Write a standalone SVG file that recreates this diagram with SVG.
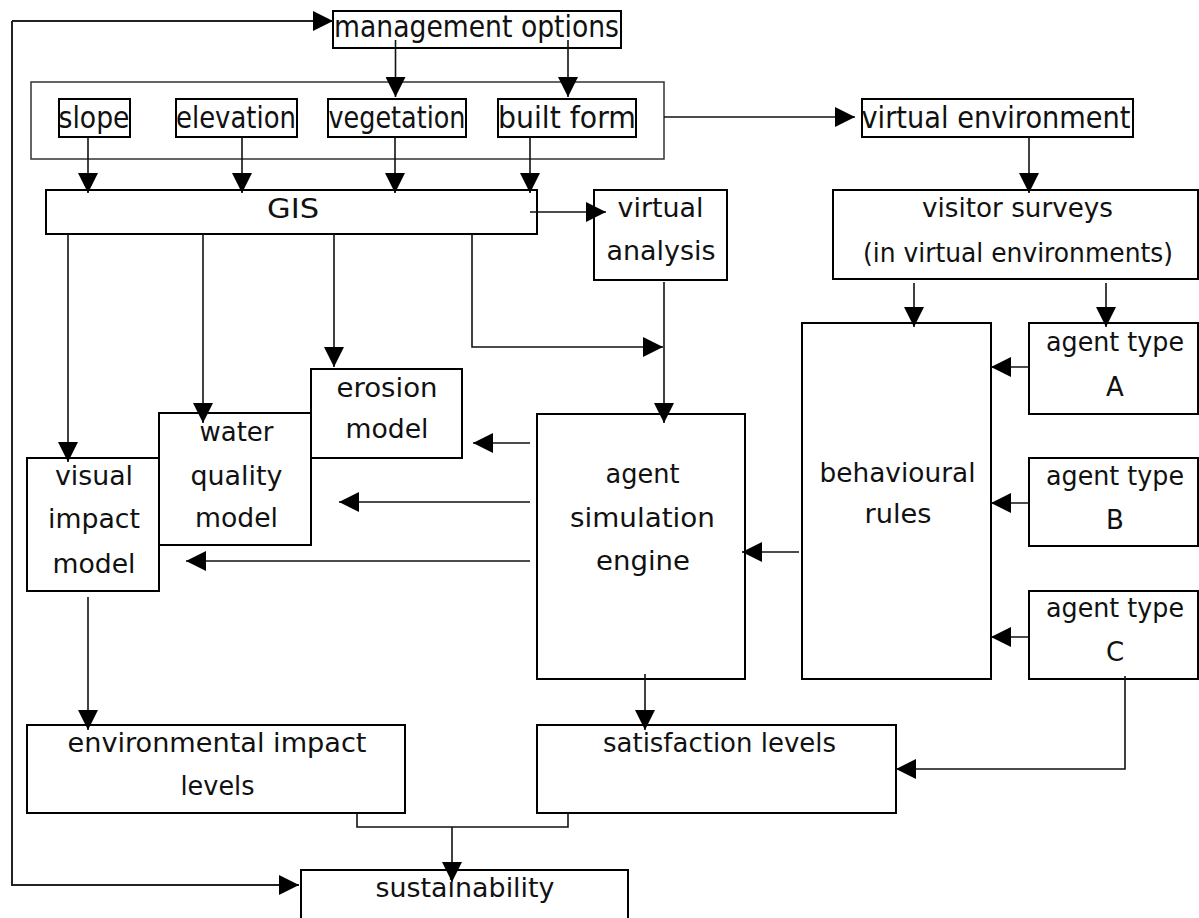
<svg xmlns="http://www.w3.org/2000/svg" width="1199" height="918" viewBox="0 0 1199 918">
  <defs>
    <marker id="arrow" markerUnits="userSpaceOnUse" markerWidth="20" markerHeight="20" viewBox="0 0 20 20" refX="20" refY="10" orient="auto">
      <path d="M0,0 L20,10 L0,20 Z" fill="#000"/>
    </marker>
    <style>
      .box { fill: #fff; stroke: #000; stroke-width: 2; }
      .grp { fill: #fff; stroke: #333; stroke-width: 1.5; }
      .t { font-family: "DejaVu Sans", "Liberation Sans", sans-serif; font-size: 26px; fill: #111; text-anchor: middle; }
      .tall { font-size: 31px; }
      .gis { font-size: 26px; }
      .c { fill: none; stroke: #111; stroke-width: 1.6; }
      .ca { fill: none; stroke: #111; stroke-width: 1.6; marker-end: url(#arrow); }
      .fb { fill: none; stroke: #222; stroke-width: 2; marker-end: url(#arrow); }
    </style>
  </defs>

  <rect width="1199" height="918" fill="#fff"/>

  <!-- top: management options -->
  <g id="management-options">
    <rect class="box" x="333" y="11" width="288" height="37"/>
    <text class="t tall" x="476.5" y="37" textLength="285" lengthAdjust="spacingAndGlyphs">management options</text>
  </g>

  <!-- landscape data layers -->
  <g id="data-layers">
    <rect class="grp" x="31" y="82" width="633" height="77"/>
  </g>
  <g id="slope">
    <rect class="box" x="59" y="99" width="71" height="38"/>
    <text class="t tall" x="94" y="128" textLength="71" lengthAdjust="spacingAndGlyphs">slope</text>
  </g>
  <g id="elevation">
    <rect class="box" x="176" y="99" width="121" height="38"/>
    <text class="t tall" x="236" y="128" textLength="120" lengthAdjust="spacingAndGlyphs">elevation</text>
  </g>
  <g id="vegetation">
    <rect class="box" x="328" y="99" width="138" height="38"/>
    <text class="t tall" x="397" y="128" textLength="137" lengthAdjust="spacingAndGlyphs">vegetation</text>
  </g>
  <g id="built-form">
    <rect class="box" x="498" y="99" width="138" height="38"/>
    <text class="t tall" x="567" y="128" textLength="138" lengthAdjust="spacingAndGlyphs">built form</text>
  </g>

  <g id="virtual-environment">
    <rect class="box" x="862" y="99" width="271" height="38"/>
    <text class="t tall" x="996" y="128" textLength="269" lengthAdjust="spacingAndGlyphs">virtual environment</text>
  </g>

  <g id="gis">
    <rect class="box" x="46" y="190" width="491" height="44"/>
    <text class="t gis" x="293" y="218" textLength="52" lengthAdjust="spacingAndGlyphs">GIS</text>
  </g>

  <g id="virtual-analysis">
    <rect class="box" x="594" y="190" width="133" height="90"/>
    <text class="t" x="660.5" y="217" textLength="86" lengthAdjust="spacingAndGlyphs">virtual</text>
    <text class="t" x="661" y="260" textLength="109" lengthAdjust="spacingAndGlyphs">analysis</text>
  </g>

  <g id="visitor-surveys">
    <rect class="box" x="833" y="190" width="365" height="89"/>
    <text class="t" x="1017.5" y="217" textLength="191" lengthAdjust="spacingAndGlyphs">visitor surveys</text>
    <text class="t" x="1018" y="262" textLength="310" lengthAdjust="spacingAndGlyphs">(in virtual environments)</text>
  </g>

  <g id="behavioural-rules">
    <rect class="box" x="802" y="323" width="189" height="356"/>
    <text class="t" x="897.5" y="482" textLength="156" lengthAdjust="spacingAndGlyphs">behavioural</text>
    <text class="t" x="898" y="523" textLength="67" lengthAdjust="spacingAndGlyphs">rules</text>
  </g>

  <g id="agent-type-a">
    <rect class="box" x="1029" y="323" width="169" height="91"/>
    <text class="t" x="1115" y="351" textLength="138" lengthAdjust="spacingAndGlyphs">agent type</text>
    <text class="t" x="1115" y="396">A</text>
  </g>
  <g id="agent-type-b">
    <rect class="box" x="1029" y="458" width="169" height="88"/>
    <text class="t" x="1115" y="485" textLength="138" lengthAdjust="spacingAndGlyphs">agent type</text>
    <text class="t" x="1115" y="529">B</text>
  </g>
  <g id="agent-type-c">
    <rect class="box" x="1029" y="591" width="169" height="88"/>
    <text class="t" x="1115" y="617" textLength="138" lengthAdjust="spacingAndGlyphs">agent type</text>
    <text class="t" x="1115" y="661">C</text>
  </g>

  <g id="agent-simulation-engine">
    <rect class="box" x="537" y="414" width="208" height="265"/>
    <text class="t" x="642.5" y="483" textLength="74" lengthAdjust="spacingAndGlyphs">agent</text>
    <text class="t" x="642.5" y="527" textLength="145" lengthAdjust="spacingAndGlyphs">simulation</text>
    <text class="t" x="643" y="570" textLength="94" lengthAdjust="spacingAndGlyphs">engine</text>
  </g>

  <g id="erosion-model">
    <rect class="box" x="311" y="369" width="151" height="89"/>
    <text class="t" x="387" y="397" textLength="101" lengthAdjust="spacingAndGlyphs">erosion</text>
    <text class="t" x="387" y="438" textLength="83" lengthAdjust="spacingAndGlyphs">model</text>
  </g>

  <g id="water-quality-model">
    <rect class="box" x="159" y="413" width="152" height="132"/>
    <text class="t" x="236.5" y="441" textLength="74" lengthAdjust="spacingAndGlyphs">water</text>
    <text class="t" x="236.5" y="485" textLength="92" lengthAdjust="spacingAndGlyphs">quality</text>
    <text class="t" x="236.5" y="527" textLength="83" lengthAdjust="spacingAndGlyphs">model</text>
  </g>

  <g id="visual-impact-model">
    <rect class="box" x="27" y="458" width="132" height="133"/>
    <text class="t" x="94" y="485" textLength="78" lengthAdjust="spacingAndGlyphs">visual</text>
    <text class="t" x="94" y="528" textLength="92" lengthAdjust="spacingAndGlyphs">impact</text>
    <text class="t" x="94" y="573" textLength="83" lengthAdjust="spacingAndGlyphs">model</text>
  </g>

  <g id="environmental-impact-levels">
    <rect class="box" x="27" y="725" width="378" height="88"/>
    <text class="t" x="217" y="752" textLength="299" lengthAdjust="spacingAndGlyphs">environmental impact</text>
    <text class="t" x="217.5" y="795" textLength="74" lengthAdjust="spacingAndGlyphs">levels</text>
  </g>

  <g id="satisfaction-levels">
    <rect class="box" x="537" y="725" width="359" height="88"/>
    <text class="t" x="719.5" y="752" textLength="233" lengthAdjust="spacingAndGlyphs">satisfaction levels</text>
  </g>

  <g id="sustainability">
    <rect class="box" x="301" y="870" width="327" height="70"/>
    <text class="t" x="465" y="897" textLength="179" lengthAdjust="spacingAndGlyphs">sustainability</text>
  </g>

  <!-- connectors -->
  <g id="connectors">
    <!-- feedback loop from sustainability back to management options -->
    <path class="fb" d="M12,21 L12,885 L299,885"/>
    <path class="fb" d="M12,21 L333,21"/>

    <!-- management options into data layers -->
    <path class="ca" d="M395.5,40 L395.5,97"/>
    <path class="ca" d="M568,40 L568,97"/>

    <!-- data layers into GIS -->
    <path class="ca" d="M88,137 L88,193"/>
    <path class="ca" d="M242,137 L242,193"/>
    <path class="ca" d="M395,137 L395,193"/>
    <path class="ca" d="M530,137 L530,193"/>

    <!-- data layers to virtual environment -->
    <path class="ca" d="M664,117 L855,117"/>
    <!-- GIS to virtual analysis -->
    <path class="ca" d="M530,212 L606,212"/>
    <!-- virtual environment to visitor surveys -->
    <path class="ca" d="M1029,137 L1029,193"/>
    <!-- visitor surveys to behavioural rules and agent type A -->
    <path class="ca" d="M914,283 L914,327"/>
    <path class="ca" d="M1106,283 L1106,327"/>

    <!-- GIS to the impact models -->
    <path class="ca" d="M68,234 L68,462"/>
    <path class="ca" d="M203,234 L203,423"/>
    <path class="ca" d="M334,234 L334,367"/>
    <!-- GIS to agent simulation engine -->
    <path class="ca" d="M472,234 L472,347 L663,347"/>
    <!-- virtual analysis to agent simulation engine -->
    <path class="ca" d="M664,282 L664,423"/>

    <!-- agent simulation engine to models -->
    <path class="ca" d="M530,443 L473,443"/>
    <path class="ca" d="M530,502 L339,502"/>
    <path class="ca" d="M530,561 L186,561"/>

    <!-- behavioural rules to agent simulation engine -->
    <path class="ca" d="M799,552 L742,552"/>
    <!-- agent types to behavioural rules -->
    <path class="ca" d="M1029,367 L991,367"/>
    <path class="ca" d="M1029,503 L991,503"/>
    <path class="ca" d="M1029,637 L991,637"/>

    <!-- agent type C to satisfaction levels -->
    <path class="ca" d="M1125,676 L1125,769 L896,769"/>
    <!-- agent simulation engine to satisfaction levels -->
    <path class="ca" d="M645,674 L645,730"/>
    <!-- visual impact model to environmental impact levels -->
    <path class="ca" d="M88,597 L88,730"/>

    <!-- both levels merge into sustainability -->
    <path class="c" d="M357,813 L357,827 L568,827 L568,813"/>
    <path class="ca" d="M452,827 L452,882"/>
  </g>
</svg>
